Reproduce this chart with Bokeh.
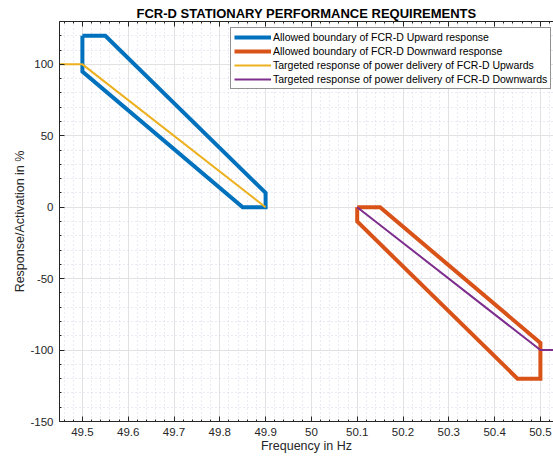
from bokeh.plotting import figure
from bokeh.models import (Range1d, LinearAxis, FixedTicker, NumeralTickFormatter,
                          CustomJSTickFormatter, Legend, LegendItem)
from bokeh.embed import file_html
from bokeh.resources import INLINE

# Allowed boundary of the upward response (closed outline), frequency in Hz / activation in %
up_bound_f = [49.5, 49.55, 49.9, 49.9, 49.85, 49.5, 49.5]
up_bound_p = [120, 120, 10, 0, 0, 95, 120]

# Allowed boundary of the downward response (closed outline)
down_bound_f = [50.1, 50.15, 50.5, 50.5, 50.45, 50.1, 50.1]
down_bound_p = [0, 0, -95, -120, -120, -10, 0]

# Targeted power delivery
up_target_f = [49.45, 49.5, 49.9]
up_target_p = [100, 100, 0]
down_target_f = [50.1, 50.5, 50.55]
down_target_p = [0, -100, -100]

x_ticks = [49.5, 49.6, 49.7, 49.8, 49.9, 50.0, 50.1, 50.2, 50.3, 50.4, 50.5]
y_ticks = [-150, -100, -50, 0, 50, 100]

labels = [
    "Allowed boundary of FCR-D Upward response",
    "Allowed boundary of FCR-D Downward response",
    "Targeted response of power delivery of FCR-D Upwards",
    "Targeted response of power delivery of FCR-D Downwards",
]

BLUE = "#0072BD"
ORANGE = "#D95319"
YELLOW = "#EDB120"
PURPLE = "#7E2F8E"
AX = "#262626"
FONT = "Liberation Sans"

x_minor = [round(49.44 + 0.02 * i, 2) for i in range(56)]
y_minor = list(range(-150, 131, 10))

p = figure(
    width=553, height=460,
    x_range=Range1d(49.45, 50.5286), y_range=Range1d(-150, 130),
    output_backend="svg", toolbar_location=None,
    min_border_left=59, min_border_right=0, min_border_top=21, min_border_bottom=39,
    title="FCR-D STATIONARY PERFORMANCE REQUIREMENTS",
)
p.outline_line_color = None
p.background_fill_color = "white"
p.border_fill_color = "white"

p.title.align = "center"
p.title.text_font = FONT
p.title.text_font_size = "13px"
p.title.text_font_style = "bold"
p.title.text_color = "black"
p.title.standoff = 2

# axes styled with inward ticks
for ax in (p.xaxis[0], p.yaxis[0]):
    ax.axis_line_color = AX
    ax.major_tick_line_color = AX
    ax.minor_tick_line_color = AX
    ax.major_tick_in = 5
    ax.major_tick_out = 0
    ax.minor_tick_in = 2
    ax.minor_tick_out = 0
    ax.major_label_text_font = FONT
    ax.major_label_text_font_size = "11.5px"
    ax.major_label_text_color = AX
    ax.axis_label_text_font = FONT
    ax.axis_label_text_font_size = "12.5px"
    ax.axis_label_text_font_style = "normal"
    ax.axis_label_text_color = AX

p.xaxis.ticker = FixedTicker(ticks=x_ticks, minor_ticks=x_minor)
p.xaxis.formatter = NumeralTickFormatter(format="0.[0]")
p.yaxis.ticker = FixedTicker(ticks=y_ticks, minor_ticks=y_minor)
p.yaxis.formatter = NumeralTickFormatter(format="0")
p.xaxis.axis_label = "Frequency in Hz"
p.yaxis.axis_label = "Response/Activation in %"
p.xaxis.major_label_standoff = 6
p.yaxis.major_label_standoff = 6
p.xaxis.axis_label_standoff = 0
p.yaxis.axis_label_standoff = 0

# top box edge with ticks, no labels
top = LinearAxis(
    ticker=FixedTicker(ticks=x_ticks, minor_ticks=x_minor),
    formatter=CustomJSTickFormatter(code="return ''"),
    major_label_standoff=0,
    axis_line_color=AX, major_tick_line_color=AX, minor_tick_line_color=AX,
    major_tick_in=5, major_tick_out=0, minor_tick_in=2, minor_tick_out=0,
)
p.add_layout(top, "above")

# grids
p.xgrid.grid_line_color = "#e2e2e2"
p.ygrid.grid_line_color = "#e2e2e2"
p.xgrid.minor_grid_line_color = "#d2d4e6"
p.ygrid.minor_grid_line_color = "#d2d4e6"
p.xgrid.minor_grid_line_dash = "1 3"
p.ygrid.minor_grid_line_dash = "1 3"

r1 = p.line(up_bound_f, up_bound_p, line_color=BLUE, line_width=4, line_join="miter")
r2 = p.line(down_bound_f, down_bound_p, line_color=ORANGE, line_width=4, line_join="miter")
r3 = p.line(up_target_f, up_target_p, line_color=YELLOW, line_width=2)
r4 = p.line(down_target_f, down_target_p, line_color=PURPLE, line_width=2)

legend = Legend(
    items=[LegendItem(label=l, renderers=[r]) for l, r in zip(labels, [r1, r2, r3, r4])],
    location=(171, 332),
    label_text_font=FONT, label_text_font_size="10.5px", label_text_color="black",
    glyph_width=37, glyph_height=10, label_height=10, label_standoff=2,
    spacing=2, padding=3, margin=0,
    border_line_color=AX, border_line_width=1, background_fill_alpha=1,
)
p.add_layout(legend, "center")

open("out.html", "w").write(file_html(p, INLINE))
